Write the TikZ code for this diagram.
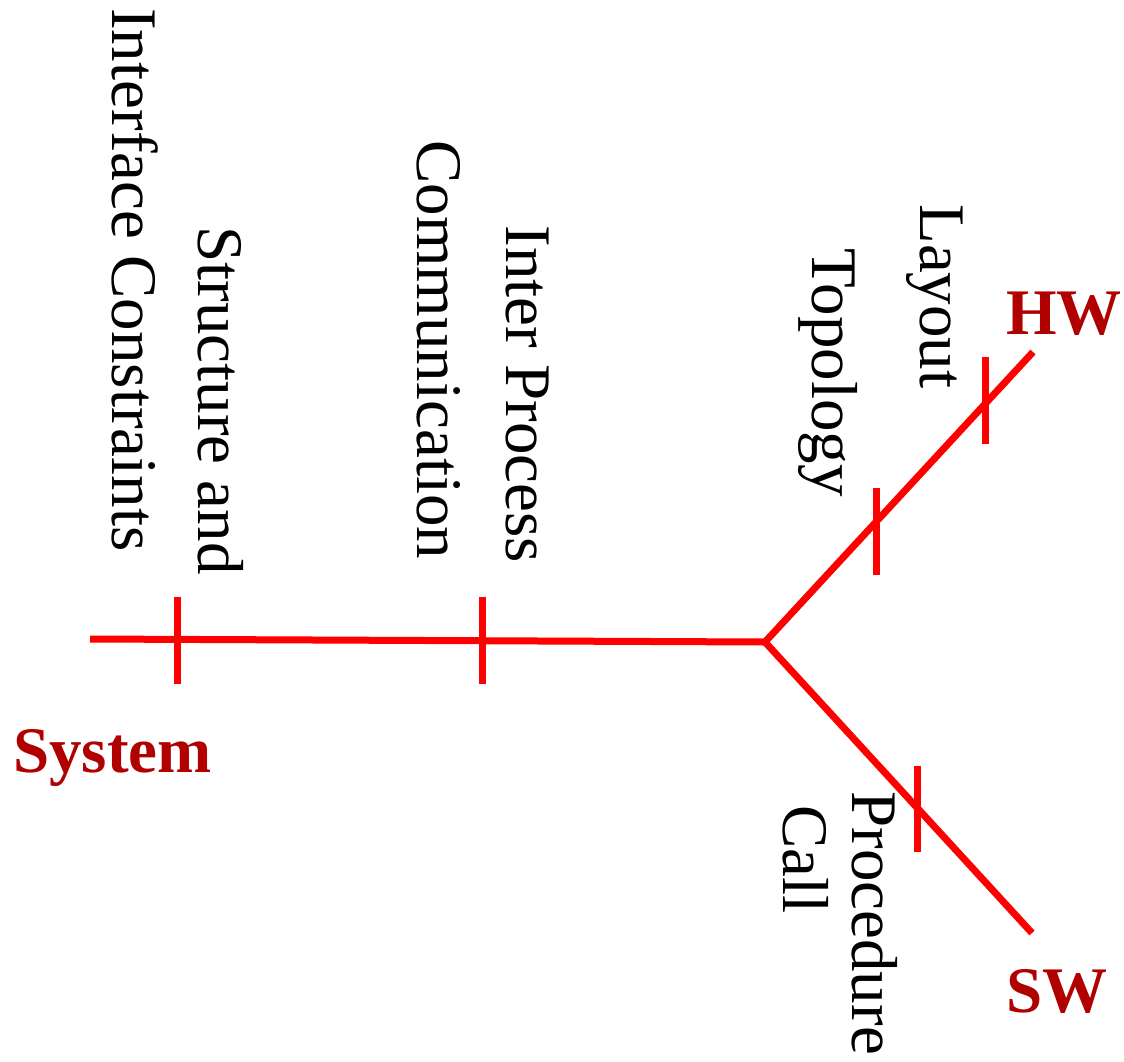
\documentclass[tikz,border=0pt]{standalone}
\usepackage{fontspec}
\setmainfont{Liberation Serif}
\definecolor{branchred}{RGB}{255,0,0}
\definecolor{labelred}{RGB}{176,0,0}
\begin{document}
\begin{tikzpicture}[x=0.02cm,y=-0.02cm,
    branch/.style={draw=branchred,line width=0.14cm},
    tick/.style={draw=branchred,line width=0.14cm},
    endlabel/.style={inner sep=0pt,anchor=base west,text=labelred,
      font=\fontsize{37}{44}\selectfont\bfseries},
    stagelabel/.style={inner sep=0pt,anchor=base west,rotate=-90,
      font=\fontsize{37}{44}\selectfont}]
  \useasboundingbox (0,0) rectangle (1124,1061);

  % branch end points
  \coordinate (sys) at (90,639);
  \coordinate (hub) at (765,642);
  \coordinate (hw) at (1033,352);
  \coordinate (sw) at (1032,933);

  % the three branches
  \draw[branch] (sys) -- (hub);
  \draw[branch] (hub) -- (hw);
  \draw[branch] (hub) -- (sw);

  % stage marks
  \draw[tick] (177,597) -- (177,684);
  \draw[tick] (482,597) -- (482,684);
  \draw[tick] (876,488) -- (876,575);
  \draw[tick] (985,357) -- (985,444);
  \draw[tick] (917,766) -- (917,852);

  % branch names
  \node[endlabel] (lsys) at (13,772) {System};
  \node[endlabel] (lhw) at (1006,334) {HW};
  \node[endlabel] (lsw) at (1006,1012) {SW};

  % stage descriptions
  \node[stagelabel] (s1a) at (198,226) {Structure and};
  \node[stagelabel] (s1b) at (112,8) {Interface Constraints};
  \node[stagelabel] (s2a) at (506,225) {Inter Process};
  \node[stagelabel] (s2b) at (417,140) {Communication};
  \node[stagelabel] (h1) at (920,204) {Layout};
  \node[stagelabel] (h2) at (812,248) {Topology};
  \node[stagelabel] (w1a) at (852,791) {Procedure};
  \node[stagelabel] (w1b) at (783,805) {Call};
\end{tikzpicture}
\end{document}
